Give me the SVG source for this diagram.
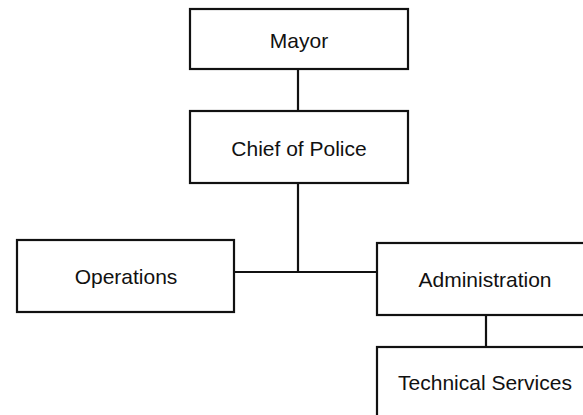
<svg xmlns="http://www.w3.org/2000/svg" width="583" height="415" viewBox="0 0 583 415">
  <style>
    .box { fill: #ffffff; stroke: #111111; stroke-width: 2.2; }
    .wire { fill: none; stroke: #111111; stroke-width: 2.2; }
    .label { font-family: "Liberation Sans", Arial, sans-serif; font-size: 21px; fill: #111111; text-anchor: middle; }
  </style>
  <rect width="583" height="415" fill="#ffffff"/>
  <g id="connectors">
    <line class="wire" x1="298" y1="69" x2="298" y2="111"/>
    <line class="wire" x1="298" y1="183" x2="298" y2="272"/>
    <line class="wire" x1="234" y1="272" x2="377" y2="272"/>
    <line class="wire" x1="486" y1="315" x2="486" y2="347"/>
  </g>
  <g id="mayor">
    <rect class="box" x="190" y="9" width="218" height="60"/>
    <text class="label" x="299" y="48">Mayor</text>
  </g>
  <g id="chief">
    <rect class="box" x="190" y="111" width="218" height="72"/>
    <text class="label" x="299" y="156">Chief of Police</text>
  </g>
  <g id="operations">
    <rect class="box" x="17" y="240" width="217" height="72"/>
    <text class="label" x="126" y="284">Operations</text>
  </g>
  <g id="administration">
    <rect class="box" x="377" y="243" width="217" height="72"/>
    <text class="label" x="485" y="287">Administration</text>
  </g>
  <g id="technical">
    <rect class="box" x="377" y="347" width="217" height="80"/>
    <text class="label" x="485" y="390">Technical Services</text>
  </g>
</svg>
